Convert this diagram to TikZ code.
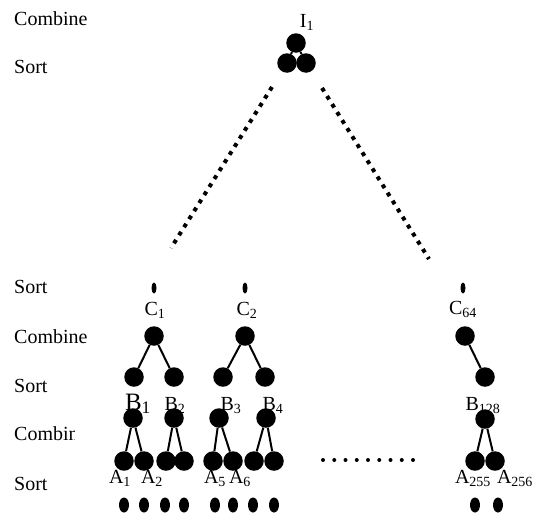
\documentclass[tikz,border=0pt]{standalone}
\usepackage{fontspec}
\setmainfont{Liberation Serif}
\usetikzlibrary{shapes.geometric}
\newcommand{\lbl}[2]{#1\textsubscript{#2}}

\begin{document}
\begin{tikzpicture}[
			x=1pt, y=-1pt,
			every node/.style={font=\fontsize{20}{24}\selectfont},
			stage/.style={anchor=base west, inner sep=0pt},
			lbltext/.style={anchor=base, inner sep=0pt},
			ball/.style={circle, fill=black, minimum size=19.5pt, inner sep=0pt},
			seed/.style={ellipse, fill=black, minimum width=5pt, minimum height=11pt, inner sep=0pt},
			leaf/.style={ellipse, fill=black, minimum width=10pt, minimum height=15pt, inner sep=0pt},
			link/.style={line width=2pt},
			dotline/.style={line width=4pt, dash pattern=on 4pt off 5.5pt}
		]
		\useasboundingbox (0,0) rectangle (537,517);

		% --- NOMI DEI LIVELLI ---
		\node (lvl1) [stage] at (14,25) {Combine};
		\node (lvl2) [stage] at (14,73) {Sort};
		\node (lvl3) [stage] at (14,293) {Sort};
		\node (lvl4) [stage] at (14,343) {Combine};
		\node (lvl5) [stage] at (14,392) {Sort};
		\begin{scope}
			\clip (0,415) rectangle (74.5,450);
			\node (lvl6) [stage] at (14,440) {Combine};
		\end{scope}
		\node (lvl7) [stage] at (14,490) {Sort};

		% --- RADICE I1 ---
		\node (i1) [lbltext] at (307,27) {\lbl{I}{1}};
		\node (itop) [ball] at (296,43) {};
		\node (ileft) [ball] at (287,63) {};
		\node (iright) [ball] at (306,63) {};
		\draw [link] (itop) -- (ileft);
		\draw [link] (itop) -- (iright);

		% Rami tratteggiati
		\coordinate (gl1) at (272,87);
		\coordinate (gl2) at (171,248);
		\coordinate (gr1) at (322,88);
		\coordinate (gr2) at (429,259);
		\draw [dotline] (gl1) -- (gl2);
		\draw [dotline] (gr1) -- (gr2);

		% --- LIVELLO C ---
		\node (cs1) [seed] at (154,288) {};
		\node (cs2) [seed] at (245,288) {};
		\node (cs64) [seed] at (463,288) {};
		\node (cl1) [lbltext] at (155,315) {\lbl{C}{1}};
		\node (cl2) [lbltext] at (247,315) {\lbl{C}{2}};
		\node (cl64) [lbltext] at (463,314) {\lbl{C}{64}};
		\node (c1) [ball] at (154,336) {};
		\node (c2) [ball] at (245,336) {};
		\node (c64) [ball] at (465,336) {};

		% --- LIVELLO B ---
		\node (bs1) [ball] at (134,377) {};
		\node (bs2) [ball] at (174,377) {};
		\node (bs3) [ball] at (223,377) {};
		\node (bs4) [ball] at (265,377) {};
		\node (bs128) [ball] at (485,377) {};
		\node (bl1) [lbltext, font=\fontsize{25}{28}\selectfont] at (138,410) {\lbl{B}{1}};
		\node (bl2) [lbltext] at (175,410) {\lbl{B}{2}};
		\node (bl3) [lbltext] at (231,410) {\lbl{B}{3}};
		\node (bl4) [lbltext] at (273,410) {\lbl{B}{4}};
		\node (bl128) [lbltext] at (483,410) {\lbl{B}{128}};
		\node (bc1) [ball] at (133,418) {};
		\node (bc2) [ball] at (174,418) {};
		\node (bc3) [ball] at (219,418) {};
		\node (bc4) [ball] at (266,418) {};
		\node (bc128) [ball] at (485,419) {};

		% --- LIVELLO A ---
		\foreach \x [count=\k] in {124,144,166,184,213,233,254,274}
			\node (a\k) [ball] at (\x,461) {};
		\node (a255) [ball] at (475,461) {};
		\node (a256) [ball] at (495,461) {};
		\node (al1) [lbltext] at (120,483) {\lbl{A}{1}};
		\node (al2) [lbltext] at (152,483) {\lbl{A}{2}};
		\node (al5) [lbltext] at (215,483) {\lbl{A}{5}};
		\node (al6) [lbltext] at (240,483) {\lbl{A}{6}};
		\node (al255) [lbltext] at (473,483) {\lbl{A}{255}};
		\node (al256) [lbltext] at (515,483) {\lbl{A}{256}};
		\foreach \x [count=\k] in {124,144,165,184,215,233,253,274,475,498}
			\node (leaf\k) [leaf] at (\x,505) {};

		% puntini di continuazione
		\foreach \i in {0,...,8}
			\fill (323+\i*11.25,460) circle (2);

		% --- COLLEGAMENTI ---
		\draw [link] (c1) -- (bs1);
		\draw [link] (c1) -- (bs2);
		\draw [link] (c2) -- (bs3);
		\draw [link] (c2) -- (bs4);
		\draw [link] (c64) -- (bs128);
		\foreach \p/\l/\r in {1/1/2, 2/3/4, 3/5/6, 4/7/8}
			\draw [link] (bc\p) -- (a\l) (bc\p) -- (a\r);
		\draw [link] (bc128) -- (a255) (bc128) -- (a256);
	\end{tikzpicture}
\end{document}
